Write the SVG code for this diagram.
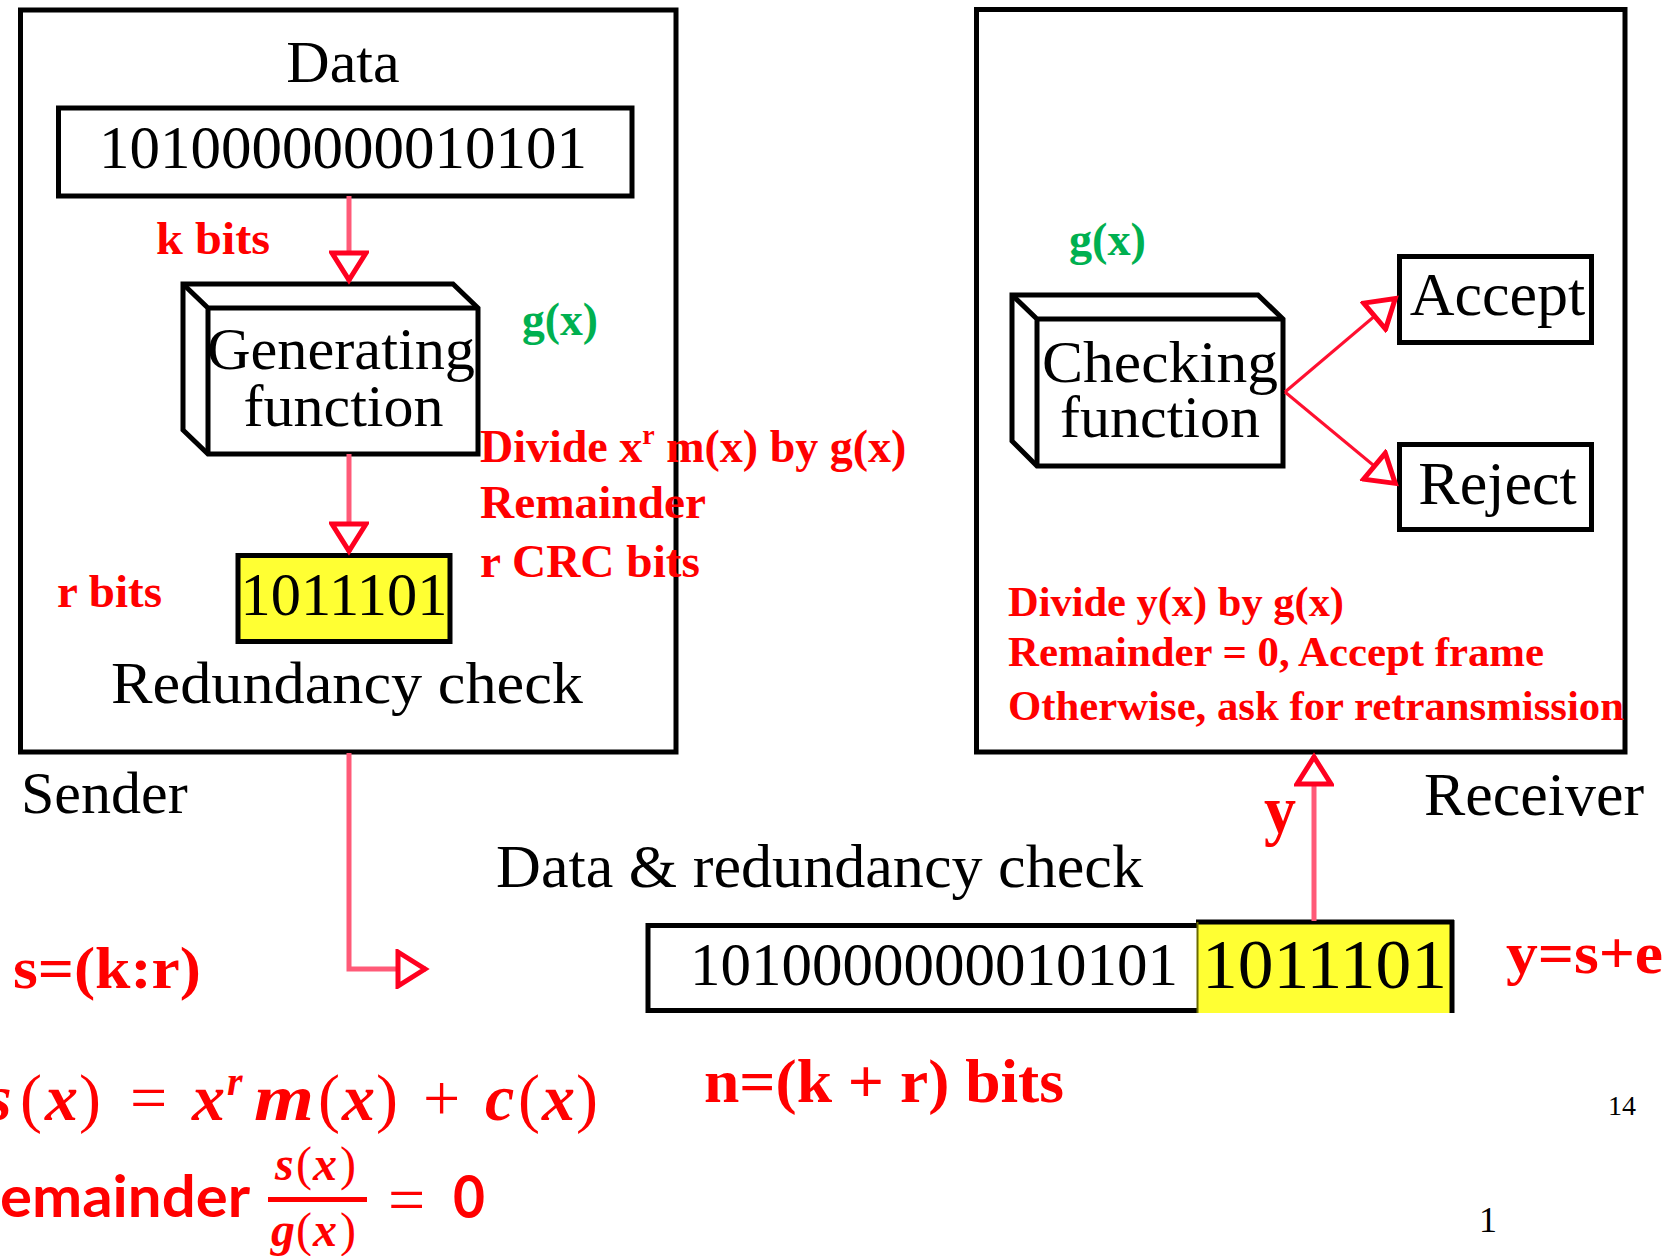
<svg xmlns="http://www.w3.org/2000/svg" width="1672" height="1256" viewBox="0 0 1672 1256">
<style>
.box{fill:#fff;stroke:#000;stroke-width:5}
.ln{fill:none;stroke:#000;stroke-width:5;stroke-linejoin:miter}
.t{font-family:"Liberation Serif",serif;fill:#000}
.r{font-family:"Liberation Serif",serif;font-weight:bold;fill:#ff0000}
.g{font-family:"Liberation Serif",serif;font-weight:bold;fill:#00b050}
.mi{font-family:"Liberation Serif",serif;font-weight:bold;font-style:italic;fill:#ff0000}
.mu{font-family:"Liberation Serif",serif;fill:#ff0000}
.ms{font-family:Lato,"Noto Sans",sans-serif;font-weight:bold;fill:#ff0000}
.conn{fill:none;stroke:#ff5a78;stroke-width:5}
.conn2{fill:none;stroke:#ff1030;stroke-width:3}
</style>
<defs>
<marker id="tri" markerUnits="userSpaceOnUse" viewBox="0 0 40 40" markerWidth="40" markerHeight="40" refX="35" refY="20" orient="auto">
<path d="M7,3 L34,20 L7,37 Z" fill="#fff" stroke="#ff0020" stroke-width="5" stroke-linejoin="miter"/>
</marker>
</defs>
<rect width="1672" height="1256" fill="#fff"/>

<g id="sender">
<rect x="20.5" y="10" width="655.5" height="742" fill="none" stroke="#000" stroke-width="5"/>
<text class="t" x="343" y="82" font-size="60" text-anchor="middle">Data</text>
<text class="t" x="21" y="813" font-size="60">Sender</text>
</g>

<g id="receiver">
<rect x="976.5" y="9.5" width="648.5" height="742.5" fill="none" stroke="#000" stroke-width="5"/>
<text class="t" x="1424" y="815" font-size="61" textLength="220" lengthAdjust="spacingAndGlyphs">Receiver</text>
</g>

<g id="data-box">
<rect class="box" x="58.5" y="108" width="573.5" height="88"/>
<text class="t" x="343" y="168" font-size="61" text-anchor="middle">1010000000010101</text>
</g>

<g id="generating-function">
<path class="box" d="M183,284 L453,284 L478,308 L478,454 L208,454 L183,430 Z"/>
<path class="ln" d="M183,284 L208,308 L478,308 M208,308 L208,454"/>
<text class="t" x="341" y="369" font-size="60" text-anchor="middle" textLength="268" lengthAdjust="spacingAndGlyphs">Generating</text>
<text class="t" x="343.5" y="426" font-size="60" text-anchor="middle">function</text>
</g>

<g id="crc-box">
<rect x="238" y="555.5" width="212" height="86" fill="#ffff33" stroke="#000" stroke-width="5"/>
<text class="t" x="344" y="615" font-size="62" text-anchor="middle" textLength="207" lengthAdjust="spacingAndGlyphs">1011101</text>
<text class="t" x="347" y="703" font-size="60" text-anchor="middle" textLength="472" lengthAdjust="spacingAndGlyphs">Redundancy check</text>
</g>

<g id="checking-function">
<path class="box" d="M1012,295 L1258,295 L1283,319 L1283,466 L1037,466 L1012,441 Z"/>
<path class="ln" d="M1012,295 L1037,319 L1283,319 M1037,319 L1037,466"/>
<text class="t" x="1160" y="382" font-size="60" text-anchor="middle" textLength="236" lengthAdjust="spacingAndGlyphs">Checking</text>
<text class="t" x="1160" y="437" font-size="60" text-anchor="middle">function</text>
</g>

<g id="accept">
<rect class="box" x="1399.5" y="256.5" width="192" height="86"/>
<text class="t" x="1497.5" y="315" font-size="62" text-anchor="middle">Accept</text>
</g>

<g id="reject">
<rect class="box" x="1399.5" y="444.5" width="192" height="85"/>
<text class="t" x="1497.5" y="504" font-size="62" text-anchor="middle">Reject</text>
</g>

<g id="frame-box">
<rect class="box" x="648" y="925.5" width="576" height="85"/>
<rect x="1197" y="922" width="255" height="91" fill="#ffff33"/>
<path d="M1196,922 H1454 M1452,920 V1013" fill="none" stroke="#000" stroke-width="5"/>
<path d="M1197.5,922 V1013" fill="none" stroke="#6b6b00" stroke-width="2"/>
<text class="t" x="690" y="985" font-size="61" textLength="488" lengthAdjust="spacingAndGlyphs">1010000000010101</text>
<text class="t" x="1202" y="988" font-size="69" textLength="245" lengthAdjust="spacingAndGlyphs">1011101</text>
<text class="t" x="496" y="887" font-size="61" textLength="647" lengthAdjust="spacingAndGlyphs">Data &amp; redundancy check</text>
</g>

<g id="connectors">
<path class="conn" d="M349,196 V281" marker-end="url(#tri)"/>
<path class="conn" d="M349,454 V552" marker-end="url(#tri)"/>
<path class="conn" d="M349,753 V969 H426" marker-end="url(#tri)"/>
<path class="conn" d="M1314,921 V756" marker-end="url(#tri)"/>
<path class="conn2" d="M1285,392 L1396,298" marker-end="url(#tri)"/>
<path class="conn2" d="M1285,392 L1396,484" marker-end="url(#tri)"/>
</g>

<g id="labels">
<text class="r" x="156" y="254" font-size="46" textLength="114" lengthAdjust="spacingAndGlyphs">k bits</text>
<text class="r" x="57" y="607" font-size="46" textLength="105" lengthAdjust="spacingAndGlyphs">r bits</text>
<text class="g" x="522" y="335" font-size="46" textLength="76" lengthAdjust="spacingAndGlyphs">g(x)</text>
<text class="g" x="1069" y="255" font-size="46" textLength="77" lengthAdjust="spacingAndGlyphs">g(x)</text>
<text class="r" x="480" y="462" font-size="46">Divide x<tspan font-size="28" dy="-18">r</tspan><tspan dy="18"> m(x) by g(x)</tspan></text>
<text class="r" x="480" y="518" font-size="46" textLength="226" lengthAdjust="spacingAndGlyphs">Remainder</text>
<text class="r" x="480" y="577" font-size="46" textLength="220" lengthAdjust="spacingAndGlyphs">r CRC bits</text>
<text class="r" x="1008" y="616" font-size="42" textLength="336" lengthAdjust="spacingAndGlyphs">Divide y(x) by g(x)</text>
<text class="r" x="1008" y="666" font-size="42" textLength="536" lengthAdjust="spacingAndGlyphs">Remainder = 0, Accept frame</text>
<text class="r" x="1008" y="720" font-size="42" textLength="616" lengthAdjust="spacingAndGlyphs">Otherwise, ask for retransmission</text>
<text class="r" x="1264" y="833" font-size="68" textLength="32" lengthAdjust="spacingAndGlyphs">y</text>
<text class="r" x="1506" y="973" font-size="60" textLength="157" lengthAdjust="spacingAndGlyphs">y=s+e</text>
<text class="r" x="13" y="988" font-size="60" textLength="188" lengthAdjust="spacingAndGlyphs">s=(k:r)</text>
<text class="r" x="704" y="1102" font-size="62" textLength="360" lengthAdjust="spacingAndGlyphs">n=(k + r) bits</text>
<text class="t" x="1608" y="1115" font-size="28">14</text>
<text class="t" x="1479" y="1232" font-size="36">1</text>
</g>

<g id="formulas">
<g font-size="66">
<text class="mi" x="-14" y="1120">s</text>
<text class="mu" x="20" y="1120">(</text>
<text class="mi" x="45" y="1120">x</text>
<text class="mu" x="79" y="1120">)</text>
<text class="mu" x="130" y="1120">=</text>
<text class="mi" x="192" y="1120">x</text>
<text class="mi" x="227" y="1095" font-size="40">r</text>
<text class="mi" x="254" y="1120" textLength="60" lengthAdjust="spacingAndGlyphs">m</text>
<text class="mu" x="318" y="1120">(</text>
<text class="mi" x="342" y="1120">x</text>
<text class="mu" x="376" y="1120">)</text>
<text class="mu" x="423" y="1120">+</text>
<text class="mi" x="485" y="1120">c</text>
<text class="mu" x="518" y="1120">(</text>
<text class="mi" x="542" y="1120">x</text>
<text class="mu" x="576" y="1120">)</text>
</g>
<text class="ms" x="0" y="1217" font-size="58" textLength="250" lengthAdjust="spacingAndGlyphs">emainder</text>
<g font-size="48">
<text class="mi" x="275" y="1180">s</text>
<text class="mu" x="296" y="1180">(</text>
<text class="mi" x="313" y="1180">x</text>
<text class="mu" x="340" y="1180">)</text>
<text class="mi" x="271" y="1246">g</text>
<text class="mu" x="296" y="1246">(</text>
<text class="mi" x="313" y="1246">x</text>
<text class="mu" x="340" y="1246">)</text>
</g>
<rect x="268" y="1197" width="99" height="5" fill="#ff0000"/>
<text class="mu" x="388" y="1222" font-size="66">=</text>
<text class="ms" x="453" y="1218" font-size="60" textLength="32" lengthAdjust="spacingAndGlyphs">0</text>
</g>
</svg>
